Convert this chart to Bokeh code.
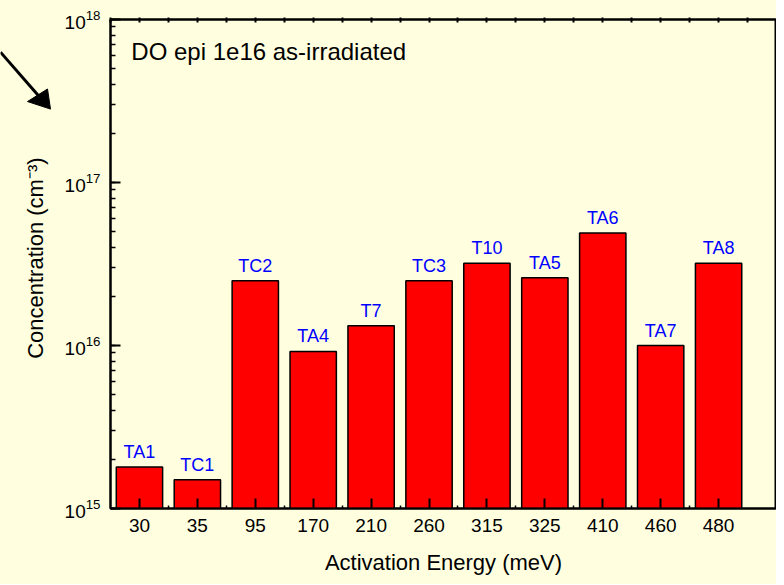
import math
from bokeh.plotting import figure
from bokeh.models import (ColumnDataSource, FixedTicker, LinearAxis, Label,
                          Range1d, CustomJSTickFormatter, Row)
from bokeh.core.properties import value
from bokeh.embed import file_html
from bokeh.resources import INLINE

energies = ["30", "35", "95", "170", "210", "260", "315", "325", "410", "460", "480"]
names = ["TA1", "TC1", "TC2", "TA4", "T7", "TC3", "T10", "TA5", "TA6", "TA7", "TA8"]
conc = [1.8e15, 1.5e15, 2.5e16, 9.2e15, 1.32e16, 2.5e16, 3.2e16, 2.6e16, 4.9e16, 1.0e16, 3.2e16]
y_title = "Concentration (cm\u207B\u00B3)"

# arrow in the left strip (strip pixel coordinates, y downward)
arrow_line_x = [0, 38]
arrow_line_y = [39, 91]
arrow_head_x = [50, 27, 47]
arrow_head_y = [107, 98, 83]

pos = list(range(1, len(energies) + 1))
src = ColumnDataSource(dict(x=pos, top=conc, name=names, bottom=[1e15] * len(pos)))

BG = "#FFFFE0"
FONT = "Liberation Sans"
W_STRIP = 60
H = 584

# ---- left strip: arrow + y-axis title ----
s = figure(width=W_STRIP, height=H, output_backend="svg", toolbar_location=None,
           x_range=Range1d(0, W_STRIP), y_range=Range1d(H, 0),
           x_axis_location=None, y_axis_location=None, min_border=0)
s.background_fill_color = BG
s.border_fill_color = BG
s.outline_line_color = None
s.grid.visible = False
s.line(arrow_line_x, arrow_line_y, line_color="black", line_width=3)
s.patch(arrow_head_x, arrow_head_y, fill_color="black", line_color="black", line_width=1)
s.text(x=[35], y=[285], text=[y_title], angle=math.pi / 2, text_align="center",
       text_baseline="middle", text_font=value(FONT), text_font_size="22px",
       text_color="black")

# ---- main chart ----
p = figure(width=716, height=H, output_backend="svg", toolbar_location=None,
           y_axis_type="log", x_range=Range1d(0.5, len(pos) + 1.0),
           y_range=Range1d(1e15, 1e18),
           min_border_left=50, min_border_right=0, min_border_top=19, min_border_bottom=76)
p.background_fill_color = BG
p.border_fill_color = BG
p.outline_line_color = "black"
p.outline_line_width = 2
p.xgrid.visible = False
p.ygrid.visible = False

p.vbar(x="x", top="top", bottom="bottom", width=0.8, source=src,
       fill_color="#FF0000", line_color="black", line_width=1.5)
p.text(x="x", y="top", text="name", source=src, text_align="center",
       text_baseline="bottom", y_offset=-5, text_color="#0000FF",
       text_font=value(FONT), text_font_size="18px")

xa = p.xaxis[0]
xa.ticker = FixedTicker(ticks=pos, minor_ticks=[x + 0.5 for x in pos[:-1]])
xa.major_label_overrides = {x: e for x, e in zip(pos, energies)}
xa.axis_label = "Activation Energy (meV)"
ya = p.yaxis[0]

for ax in (xa, ya):
    ax.axis_line_width = 2
    ax.major_tick_in = 10
    ax.major_tick_out = 0
    ax.minor_tick_in = 5
    ax.minor_tick_out = 0
    ax.major_tick_line_width = 2
    ax.minor_tick_line_width = 1.5
    ax.major_label_text_font = FONT
    ax.major_label_text_font_size = "19px"
    ax.major_label_text_color = "black"
    ax.axis_label_text_font = FONT
    ax.axis_label_text_font_size = "22px"
    ax.axis_label_text_font_style = "normal"
    ax.axis_label_text_color = "black"
xa.minor_tick_in = 3
xa.major_label_standoff = 10
xa.axis_label_standoff = 15
ya.major_label_standoff = 10

blank = CustomJSTickFormatter(code="return ''")
top_ax = LinearAxis(ticker=FixedTicker(ticks=[x * 0.5 for x in range(1, 2 * len(pos) + 2)]),
                    formatter=blank, major_label_standoff=0, major_label_text_font_size="1px",
                    major_tick_in=3, major_tick_out=2,
                    minor_tick_line_color=None, axis_line_width=2, major_tick_line_width=2)
p.add_layout(top_ax, "above")

p.add_layout(Label(x=0.86, y=6.4e17, text="DO epi 1e16 as-irradiated", text_font=FONT,
                   text_font_size="24px", text_baseline="middle", text_color="black"))

layout = Row(children=[s, p], spacing=0, styles={"background-color": BG})

open("out.html", "w").write(file_html(layout, INLINE))
